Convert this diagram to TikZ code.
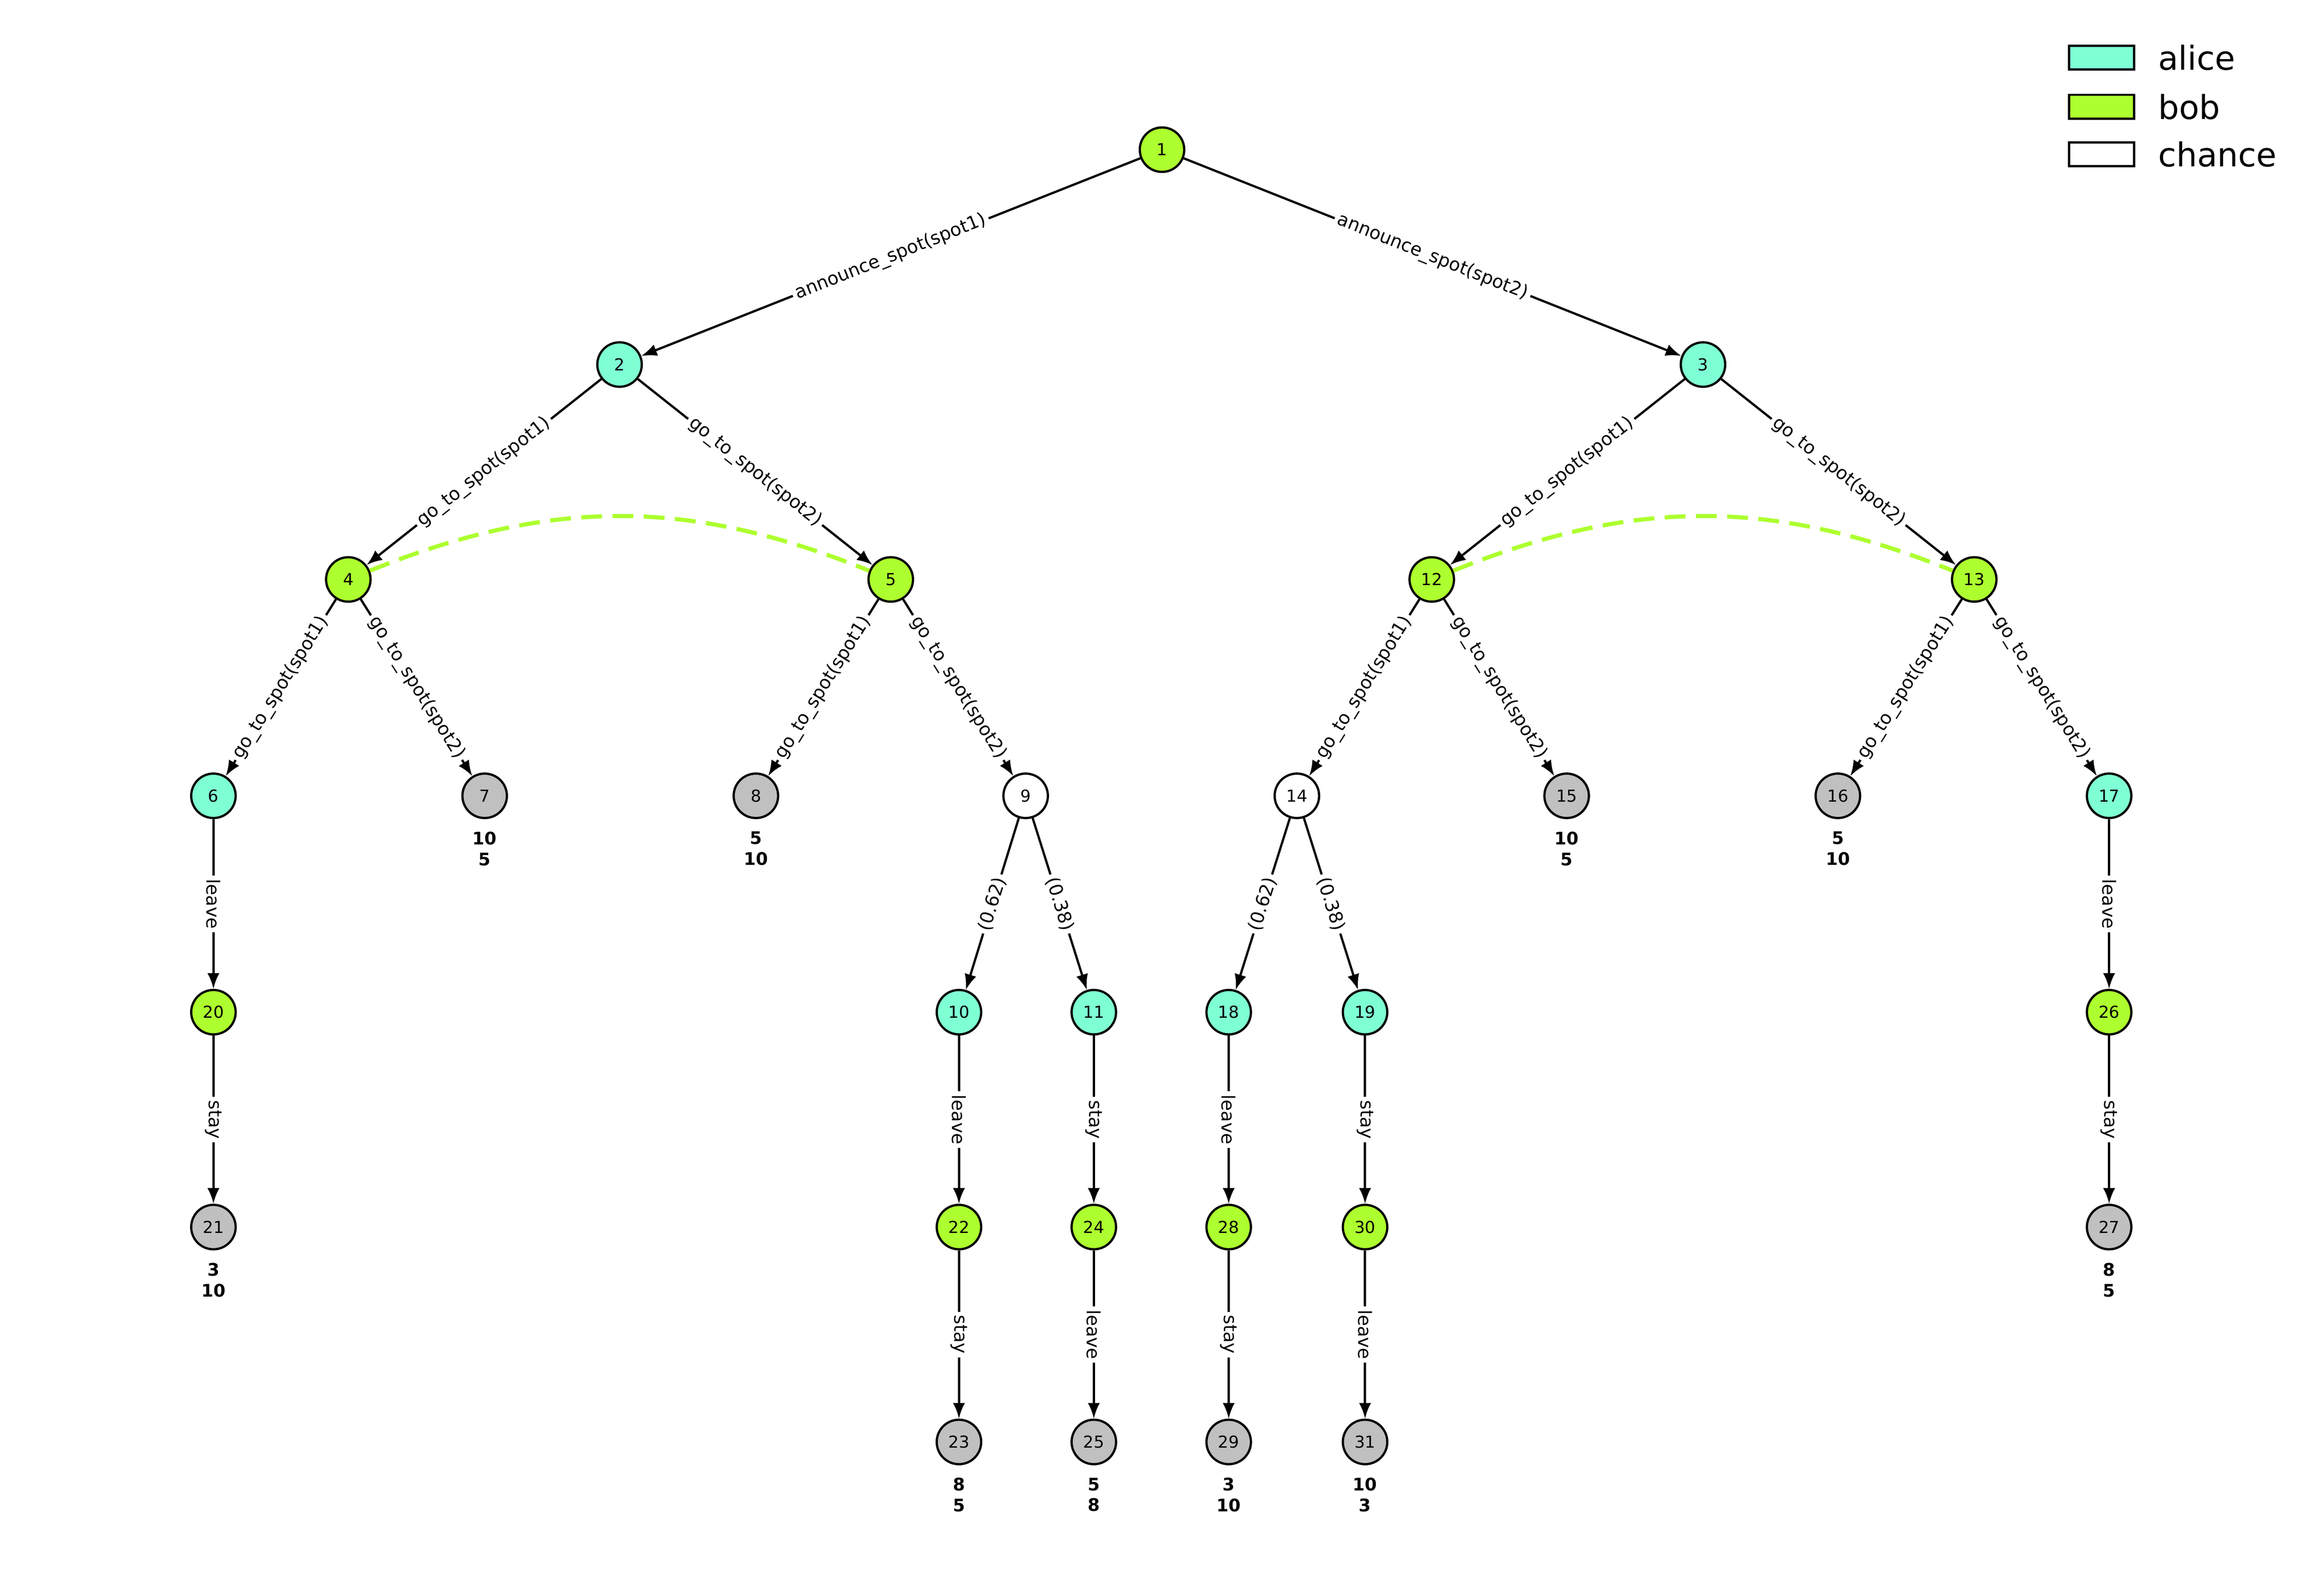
\documentclass[tikz,border=0pt]{standalone}
\usepackage{fontspec}
\setmainfont{DejaVu Sans}
\usetikzlibrary{arrows.meta,backgrounds}
\definecolor{alicec}{HTML}{7FFFD4}
\definecolor{bobc}{HTML}{ADFF2F}
\definecolor{termc}{HTML}{C0C0C0}
\tikzset{
  pnode/.style={circle,draw,line width=1.3pt,minimum size=0.9cm,inner sep=0pt,font=\fontsize{9.5}{10}\selectfont},
  alice/.style={pnode,fill=alicec},
  bob/.style={pnode,fill=bobc},
  chance/.style={pnode,fill=white},
  term/.style={pnode,fill=termc},
  edge/.style={line width=1.3pt,-{Latex[length=9pt,width=7pt]}},
  lbl/.style={sloped,fill=white,inner sep=2pt,font=\fontsize{10.5}{11}\selectfont},
  pay/.style={align=center,inner sep=0pt,yshift=-7pt,font=\bfseries\fontsize{10}{12}\selectfont},
  infoset/.style={bobc,line width=2.4pt,dash pattern=on 12pt off 6pt},
  legbox/.style={draw,line width=1.3pt,minimum width=1.32cm,minimum height=0.48cm,inner sep=0pt}
}
\begin{document}
\begin{tikzpicture}[x=0.03cm,y=-0.03cm]
\useasboundingbox (0,0) rectangle (1568,1076);

% legend
\node[legbox,fill=alicec] (la) at (1418,39) {};
\node[legbox,fill=bobc] (lb) at (1418,72) {};
\node[legbox,fill=white] (lc) at (1418,104) {};
\node[anchor=west,font=\fontsize{19}{20}\selectfont] at (1452,39) {alice};
\node[anchor=west,font=\fontsize{19}{20}\selectfont] at (1452,72) {bob};
\node[anchor=west,font=\fontsize{19}{20}\selectfont] at (1452,104) {chance};

% nodes
\node[bob] (n1) at (784,101) {1};
\node[alice] (n2) at (418,246) {2};
\node[alice] (n3) at (1149,246) {3};
\node[bob] (n4) at (235,391) {4};
\node[bob] (n5) at (601,391) {5};
\node[bob] (n12) at (966,391) {12};
\node[bob] (n13) at (1332,391) {13};
\node[alice] (n6) at (144,537) {6};
\node[term,label={[pay]below:{10\\5}}] (n7) at (327,537) {7};
\node[term,label={[pay]below:{5\\10}}] (n8) at (510,537) {8};
\node[chance] (n9) at (692,537) {9};
\node[chance] (n14) at (875,537) {14};
\node[term,label={[pay]below:{10\\5}}] (n15) at (1057,537) {15};
\node[term,label={[pay]below:{5\\10}}] (n16) at (1240,537) {16};
\node[alice] (n17) at (1423,537) {17};
\node[bob] (n20) at (144,683) {20};
\node[alice] (n10) at (647,683) {10};
\node[alice] (n11) at (738,683) {11};
\node[alice] (n18) at (829,683) {18};
\node[alice] (n19) at (921,683) {19};
\node[bob] (n26) at (1423,683) {26};
\node[term,label={[pay]below:{3\\10}}] (n21) at (144,828) {21};
\node[bob] (n22) at (647,828) {22};
\node[bob] (n24) at (738,828) {24};
\node[bob] (n28) at (829,828) {28};
\node[bob] (n30) at (921,828) {30};
\node[term,label={[pay]below:{8\\5}}] (n27) at (1423,828) {27};
\node[term,label={[pay]below:{8\\5}}] (n23) at (647,973) {23};
\node[term,label={[pay]below:{5\\8}}] (n25) at (738,973) {25};
\node[term,label={[pay]below:{3\\10}}] (n29) at (829,973) {29};
\node[term,label={[pay]below:{10\\3}}] (n31) at (921,973) {31};

% moves
\draw[edge] (n1) -- node[lbl]{announce\_spot(spot1)} (n2);
\draw[edge] (n1) -- node[lbl]{announce\_spot(spot2)} (n3);
\draw[edge] (n2) -- node[lbl]{go\_to\_spot(spot1)} (n4);
\draw[edge] (n2) -- node[lbl]{go\_to\_spot(spot2)} (n5);
\draw[edge] (n3) -- node[lbl]{go\_to\_spot(spot1)} (n12);
\draw[edge] (n3) -- node[lbl]{go\_to\_spot(spot2)} (n13);
\draw[edge] (n4) -- node[lbl]{go\_to\_spot(spot1)} (n6);
\draw[edge] (n4) -- node[lbl]{go\_to\_spot(spot2)} (n7);
\draw[edge] (n5) -- node[lbl]{go\_to\_spot(spot1)} (n8);
\draw[edge] (n5) -- node[lbl]{go\_to\_spot(spot2)} (n9);
\draw[edge] (n12) -- node[lbl]{go\_to\_spot(spot1)} (n14);
\draw[edge] (n12) -- node[lbl]{go\_to\_spot(spot2)} (n15);
\draw[edge] (n13) -- node[lbl]{go\_to\_spot(spot1)} (n16);
\draw[edge] (n13) -- node[lbl]{go\_to\_spot(spot2)} (n17);
\draw[edge] (n6) -- node[lbl]{leave} (n20);
\draw[edge] (n20) -- node[lbl]{stay} (n21);
\draw[edge] (n9) -- node[lbl]{(0.62)} (n10);
\draw[edge] (n9) -- node[lbl]{(0.38)} (n11);
\draw[edge] (n14) -- node[lbl]{(0.62)} (n18);
\draw[edge] (n14) -- node[lbl]{(0.38)} (n19);
\draw[edge] (n10) -- node[lbl]{leave} (n22);
\draw[edge] (n11) -- node[lbl]{stay} (n24);
\draw[edge] (n18) -- node[lbl]{leave} (n28);
\draw[edge] (n19) -- node[lbl]{stay} (n30);
\draw[edge] (n22) -- node[lbl]{stay} (n23);
\draw[edge] (n24) -- node[lbl]{leave} (n25);
\draw[edge] (n28) -- node[lbl]{stay} (n29);
\draw[edge] (n30) -- node[lbl]{leave} (n31);
\draw[edge] (n17) -- node[lbl]{leave} (n26);
\draw[edge] (n26) -- node[lbl]{stay} (n27);

% information sets
\draw[infoset] (n4) to[bend left=22] (n5);
\draw[infoset] (n12) to[bend left=22] (n13);
\end{tikzpicture}
\end{document}
